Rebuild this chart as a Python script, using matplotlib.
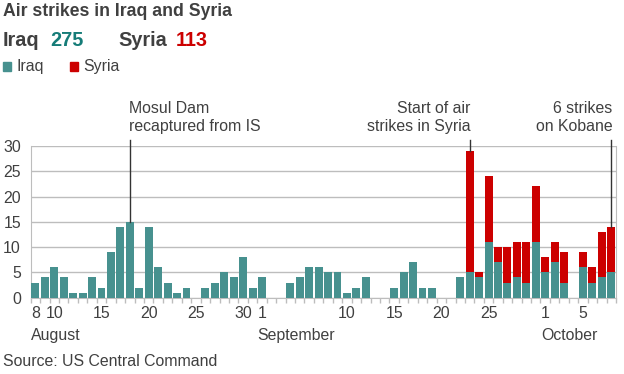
import matplotlib
matplotlib.use("Agg")
import matplotlib.pyplot as plt
import numpy as np

plt.rcParams['font.family'] = ['Liberation Sans', 'DejaVu Sans']

# Days from 8 August to 8 October 2014
iraq = [3, 4, 6, 4, 1, 1, 4, 2, 9, 14, 15, 2, 14, 6, 3, 1, 2, 0, 2, 3, 5, 4, 8, 2,   # Aug 8-31
        4, 0, 0, 3, 4, 6, 6, 5, 5, 1, 2, 4, 0, 0, 2, 5, 7, 2, 2, 0, 0,               # Sep 1-21
        4, 5, 4, 11, 7, 3, 4, 3, 11,                                                 # Sep 22-30
        5, 7, 3, 0, 6, 3, 4, 5]                                                      # Oct 1-8
syria = [0] * 45 + [0, 24, 1, 13, 3, 7, 7, 8, 11,
                    3, 4, 6, 0, 3, 3, 9, 9]

tick_idx = [0, 2, 7, 12, 17, 22, 24, 33, 38, 43, 48, 54, 58]
tick_labels = ["8", "10", "15", "20", "25", "30", "1", "10", "15", "20", "25", "1", "5"]
months = [("August", 0), ("September", 24), ("October", 54)]
annotations = [("Mosul Dam\nrecaptured from IS", 10, "left"),
               ("Start of air\nstrikes in Syria", 46, "right"),
               ("6 strikes\non Kobane", 61, "right")]
totals = {"Iraq": 275, "Syria": 113}

IRAQ_C = "#47918f"
SYRIA_C = "#cc0000"
TXT = "#404040"
GRID = "#bdbdbd"
FS = 11.4

W, H = 624, 374
fig = plt.figure(figsize=(W / 100, H / 100), dpi=100)

def fx(px):
    return px / W

def fy(py):
    return 1 - py / H

ax_l, ax_r, ax_t, ax_b = 30.7, 616, 146, 297.7
ax = fig.add_axes([fx(ax_l), fy(ax_b), fx(ax_r - ax_l), (ax_b - ax_t) / H])

x = np.arange(len(iraq))
iraq_a = np.array(iraq)
syria_a = np.array(syria)
ax.bar(x, iraq_a, width=0.84, color=IRAQ_C, zorder=3, linewidth=0)
ax.bar(x, syria_a, bottom=iraq_a, width=0.84, color=SYRIA_C, zorder=3, linewidth=0)

ax.set_xlim(-0.5, len(iraq) - 0.5)
ax.set_ylim(0, 30)
ax.set_yticks(range(0, 31, 5))
ax.yaxis.grid(True, color=GRID, linewidth=1)
ax.set_axisbelow(True)
ax.spines["top"].set_visible(False)
ax.spines["left"].set_color(GRID)
ax.spines["right"].set_color(GRID)
ax.spines["bottom"].set_color(GRID)
ax.tick_params(axis="y", length=0, labelsize=FS, labelcolor=TXT, pad=7)

# x ticks: minor at day boundaries, labels at chosen days
ax.set_xticks(np.arange(-0.5, len(iraq), 1), minor=True)
ax.set_xticks(tick_idx)
ax.set_xticklabels(tick_labels)
ax.tick_params(axis="x", which="major", length=0, labelsize=FS, labelcolor=TXT, pad=6)
ax.tick_params(axis="x", which="minor", length=3.5, color=GRID, width=1)

trans = ax.get_xaxis_transform()
for name, idx in months:
    ax.text(idx - 0.45, -0.246, name, transform=trans, ha="left", va="center",
            fontsize=FS, color=TXT)

# annotations
top_data = (ax_b - 140) / (ax_b - ax_t) * 30
for text, idx, ha in annotations:
    total = iraq_a[idx] + syria_a[idx]
    ax.plot([idx, idx], [total, top_data], color="#333333", linewidth=1, clip_on=False, zorder=4)
    tx = idx - 0.1 if ha == "left" else idx + 0.1
    ax.text(tx, 30 * (ax_b - 117.5) / (ax_b - ax_t), text, ha=ha, va="center",
            fontsize=FS, color=TXT, linespacing=1.18)

# header texts
fig.text(fx(3), fy(12), "Air strikes in Iraq and Syria", fontsize=12.7, fontweight="bold",
         color=TXT, ha="left", va="center")
fig.text(fx(3), fy(40), "Iraq", fontsize=14.3, fontweight="bold", color=TXT, ha="left", va="center")
fig.text(fx(50), fy(40), str(totals["Iraq"]), fontsize=14.3, fontweight="bold", color="#157c78",
         ha="left", va="center")
fig.text(fx(118), fy(40), "Syria", fontsize=14.3, fontweight="bold", color=TXT, ha="left", va="center")
fig.text(fx(176), fy(40), str(totals["Syria"]), fontsize=14.3, fontweight="bold", color=SYRIA_C,
         ha="left", va="center")

# legend
fig.patches.append(plt.Rectangle((fx(3), fy(71)), fx(8), 9 / H, transform=fig.transFigure,
                                 color=IRAQ_C, figure=fig))
fig.text(fx(16), fy(66.5), "Iraq", fontsize=FS, color=TXT, ha="left", va="center")
fig.patches.append(plt.Rectangle((fx(70), fy(71)), fx(8), 9 / H, transform=fig.transFigure,
                                 color=SYRIA_C, figure=fig))
fig.text(fx(83), fy(66.5), "Syria", fontsize=FS, color=TXT, ha="left", va="center")

fig.text(fx(3), fy(362), "Source: US Central Command", fontsize=FS, color=TXT, ha="left", va="center")

fig.savefig("out.png", dpi=100)
